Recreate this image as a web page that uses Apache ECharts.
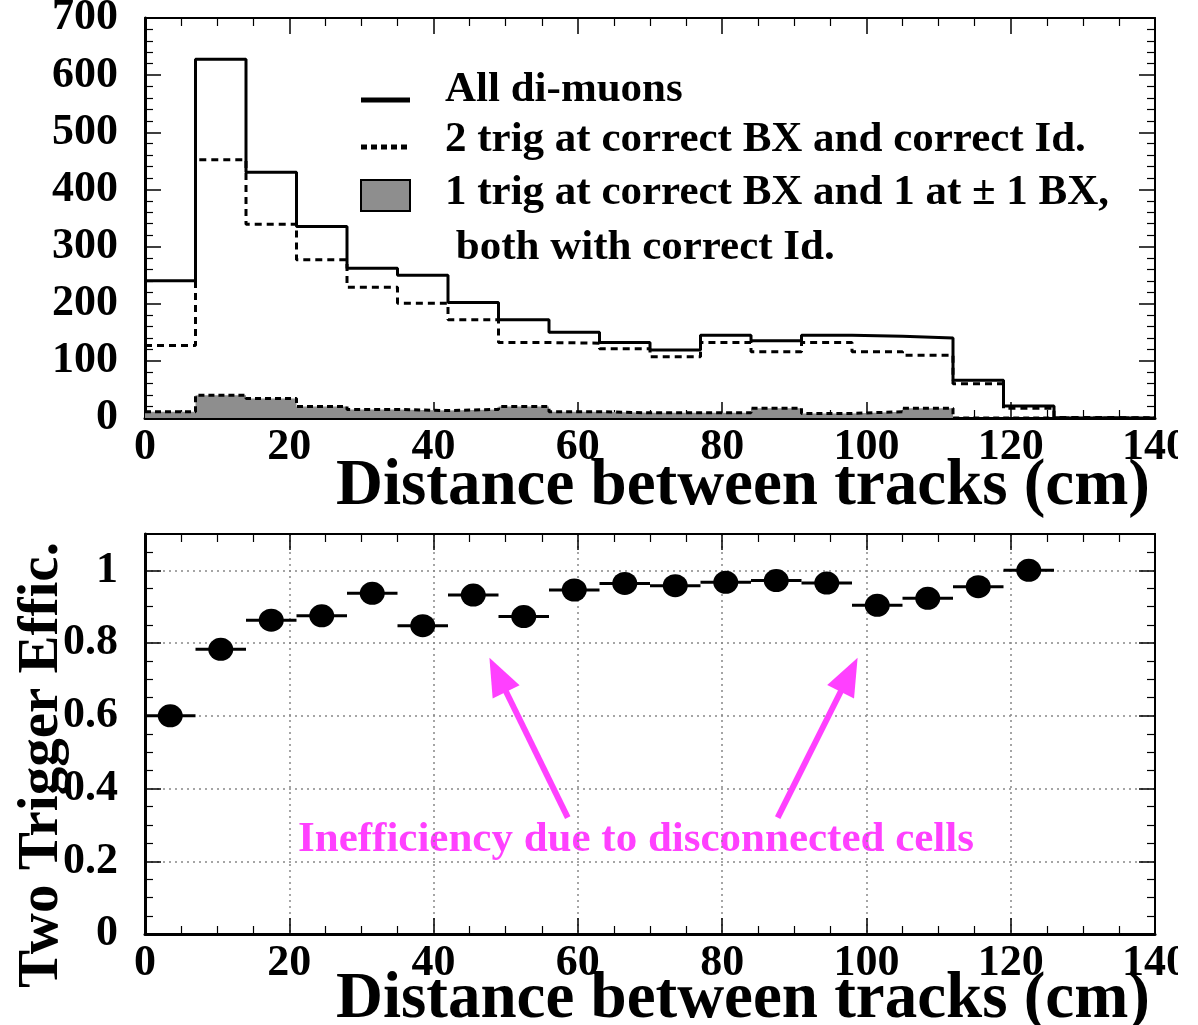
<!DOCTYPE html>
<html>
<head>
<meta charset="utf-8">
<script src="https://cdn.jsdelivr.net/npm/echarts@6/dist/echarts.min.js"></script>
<style>
html,body{margin:0;padding:0;background:#fff;}
#chart{width:1178px;height:1025px;overflow:hidden;}
</style>
</head>
<body>
<div id="chart"></div>
<script>
// ---- Top panel: histograms (bin left edges, 7 cm bins up to 140 cm)
const binLeft = [0,7,14,21,28,35,42,49,56,63,70,77,84,91,98,105,112,119,126,133];
const histEnd = 140;
const allDimuons = [240,628,430,335,262,250,202,172,150,132,119,145,135,145,143,140,66,21,0,0];
const twoTrigCorrect = [127,452,339,277,229,201,172,132,131,121,107,132,116,132,116,110,60,17,1,0];
const oneTrigPm1BX = [11,40,34,20,15,13,15,20,11,9,9,9,17,8,11,17,0,0,0,0];

// ---- Bottom panel: efficiency per bin
const effX = [3.5,10.5,17.5,24.5,31.5,38.5,45.5,52.5,59.5,66.5,73.5,80.5,87.5,94.5,101.5,108.5,115.5,122.5];
const effY = [0.600,0.783,0.863,0.875,0.937,0.848,0.932,0.873,0.946,0.964,0.958,0.967,0.972,0.965,0.904,0.923,0.955,1.000];
const effXErr = [3.5,3.5,3.5,3.5,3.5,3.5,3.5,3.5,3.5,3.5,3.5,3.5,3.5,3.5,3.5,3.5,3.5,3.5];

// tick labels
const xTicks = [0,20,40,60,80,100,120,140];
const topYTicks = [0,100,200,300,400,500,600,700];
const botYTicks = [0,0.2,0.4,0.6,0.8,1];

// annotation (data coords of bottom panel)
const arrows = [
  {from:[58.6,0.320], to:[48.9,0.713]},
  {from:[87.7,0.320], to:[97.6,0.713]}
];
const annotationText = 'Inefficiency due to disconnected cells';
const legendNames = ['All di-muons','2 trig at correct BX and correct Id.','1 trig at correct BX and 1 at \u00b1 1 BX,',' both with correct Id.'];
const xTitle = 'Distance between tracks (cm)';
const yTitleBottom = 'Two Trigger Effic.';

const FONT = "'Liberation Serif','Times New Roman',serif";
const MAGENTA = '#ff40ff';

function histData(arr){
  const d = binLeft.map((x,i)=>[x, arr[i]]);
  d.push([histEnd, arr[arr.length-1]]);
  return d;
}

function mainAxis(gridIndex, pos, min, max, interval, minorSplit, showLabel, splitLine, fmt, pad){
  return {
    type:'value', gridIndex, position:pos, min, max, interval,
    axisLine:{show:true, onZero:false, lineStyle:{color:'#000', width:(pos==='bottom'||pos==='left')?3:2}},
    axisTick:{show:true, inside:true, length:16, lineStyle:{color:'#000', width:1.5}},
    minorTick:{show:true, splitNumber:minorSplit, length:8, lineStyle:{color:'#000', width:1.2}},
    axisLabel:{show:showLabel, color:'#000', fontFamily:FONT, fontWeight:'bold', fontSize:44,
      margin:(pos==='left')?27:8, showMaxLabel: showLabel ? undefined : false,
      padding: pad || 0,
      formatter: fmt || (v=>String(v))},
    splitLine: splitLine ? {show:true, lineStyle:{color:'#888', width:1.5, type:[2,4]}} : {show:false},
    minorSplitLine:{show:false}
  };
}

const chart = echarts.init(document.getElementById('chart'), null, {renderer:'canvas'});

const fmtEff = v => { const r = Math.round(v*10)/10; return botYTicks.indexOf(r) >= 0 && Math.abs(v-r)<1e-6 ? String(r) : ''; };
const fmtX = v => xTicks.indexOf(v) >= 0 ? String(v) : '';
const fmtTopY = v => topYTicks.indexOf(v) >= 0 ? String(v) : '';

const option = {
  animation:false,
  backgroundColor:'#fff',
  grid:[
    {left:145, top:18, width:1010, height:400, containLabel:false, outerBoundsMode:'none'},
    {left:145, top:534, width:1010, height:400, containLabel:false, outerBoundsMode:'none'}
  ],
  xAxis:[
    mainAxis(0,'bottom',0,140,20,4,true,false,fmtX),
    mainAxis(0,'top',0,140,20,4,false,false),
    mainAxis(1,'bottom',0,140,20,4,true,true,fmtX),
    mainAxis(1,'top',0,140,20,4,false,false)
  ],
  yAxis:[
    mainAxis(0,'left',0,700,100,5,true,false,fmtTopY,[8,0,0,0]),
    mainAxis(0,'right',0,700,100,5,false,false),
    mainAxis(1,'left',0,1.1,0.2,4,true,true,fmtEff),
    mainAxis(1,'right',0,1.1,0.2,4,false,false)
  ],
  series:[
    {
      name:'1 trig at correct BX and 1 at \u00b1 1 BX', type:'line', xAxisIndex:0, yAxisIndex:0,
      step:'end', showSymbol:false, z:2,
      data:histData(oneTrigPm1BX),
      lineStyle:{color:'#000', width:3, type:[6,4]},
      areaStyle:{color:'#8e8e8e', opacity:1}
    },
    {
      name:'2 trig at correct BX and correct Id.', type:'line', xAxisIndex:0, yAxisIndex:0,
      step:'end', showSymbol:false, z:3,
      data:histData(twoTrigCorrect),
      lineStyle:{color:'#000', width:3, type:[7,5]}
    },
    {
      name:'All di-muons', type:'line', xAxisIndex:0, yAxisIndex:0,
      step:'end', showSymbol:false, z:4,
      data:histData(allDimuons),
      lineStyle:{color:'#000', width:3}
    },
    {
      name:'errors', type:'custom', xAxisIndex:2, yAxisIndex:2, z:5,
      data: effX.map((x,i)=>[x, effY[i], effXErr[i]]),
      renderItem:(params, api)=>{
        const x = api.value(0), y = api.value(1), e = api.value(2);
        const p1 = api.coord([x-e, y]), p2 = api.coord([x+e, y]);
        return {type:'line', shape:{x1:p1[0], y1:p1[1], x2:p2[0], y2:p2[1]}, style:{stroke:'#000', lineWidth:3}};
      }
    },
    {
      name:'Two Trigger Effic.', type:'scatter', xAxisIndex:2, yAxisIndex:2, z:6,
      data: effX.map((x,i)=>[x, effY[i]]),
      symbol:'circle', symbolSize:[25,23],
      itemStyle:{color:'#000', opacity:1},
      markLine:{
        silent:true, symbol:['none','triangle'], symbolSize:[30,38],
        label:{show:false},
        lineStyle:{color:MAGENTA, width:6, type:'solid', opacity:1},
        data: arrows.map(a=>[{coord:a.from},{coord:a.to}])
      }
    }
  ],
  graphic:[
    // legend
    {type:'rect', shape:{x:361, y:97.5, width:49, height:5}, style:{fill:'#000'}},
    {type:'line', shape:{x1:361, y1:147, x2:410, y2:147}, style:{stroke:'#000', lineWidth:5, lineDash:[6,4]}},
    {type:'rect', shape:{x:361, y:180, width:49, height:31}, style:{fill:'#8e8e8e', stroke:'#000', lineWidth:2}},
    {type:'text', x:445, y:90, style:{text:legendNames[0], font:"bold 43px "+FONT, fill:'#000', textVerticalAlign:'middle'}},
    {type:'text', x:445, y:140, style:{text:legendNames[1], font:"bold 43px "+FONT, fill:'#000', textVerticalAlign:'middle'}},
    {type:'text', x:445, y:193, style:{text:legendNames[2], font:"bold 43px "+FONT, fill:'#000', textVerticalAlign:'middle'}},
    {type:'text', x:445, y:248, style:{text:legendNames[3], font:"bold 43px "+FONT, fill:'#000', textVerticalAlign:'middle'}},
    // axis titles
    {type:'text', x:1150, y:487, style:{text:xTitle, font:"bold 65px "+FONT, fill:'#000', textAlign:'right', textVerticalAlign:'middle'}},
    {type:'text', x:1150, y:1000, style:{text:xTitle, font:"bold 65px "+FONT, fill:'#000', textAlign:'right', textVerticalAlign:'middle'}},
    {type:'text', x:42, y:765, rotation:Math.PI/2, style:{text:yTitleBottom, font:"bold 57px "+FONT, fill:'#000', textAlign:'center', textVerticalAlign:'middle'}},
    // annotation
    {type:'text', x:636, y:840, style:{text:annotationText, font:"bold 43px "+FONT, fill:MAGENTA, textAlign:'center', textVerticalAlign:'middle'}}
  ]
};
chart.setOption(option);
</script>
</body>
</html>
